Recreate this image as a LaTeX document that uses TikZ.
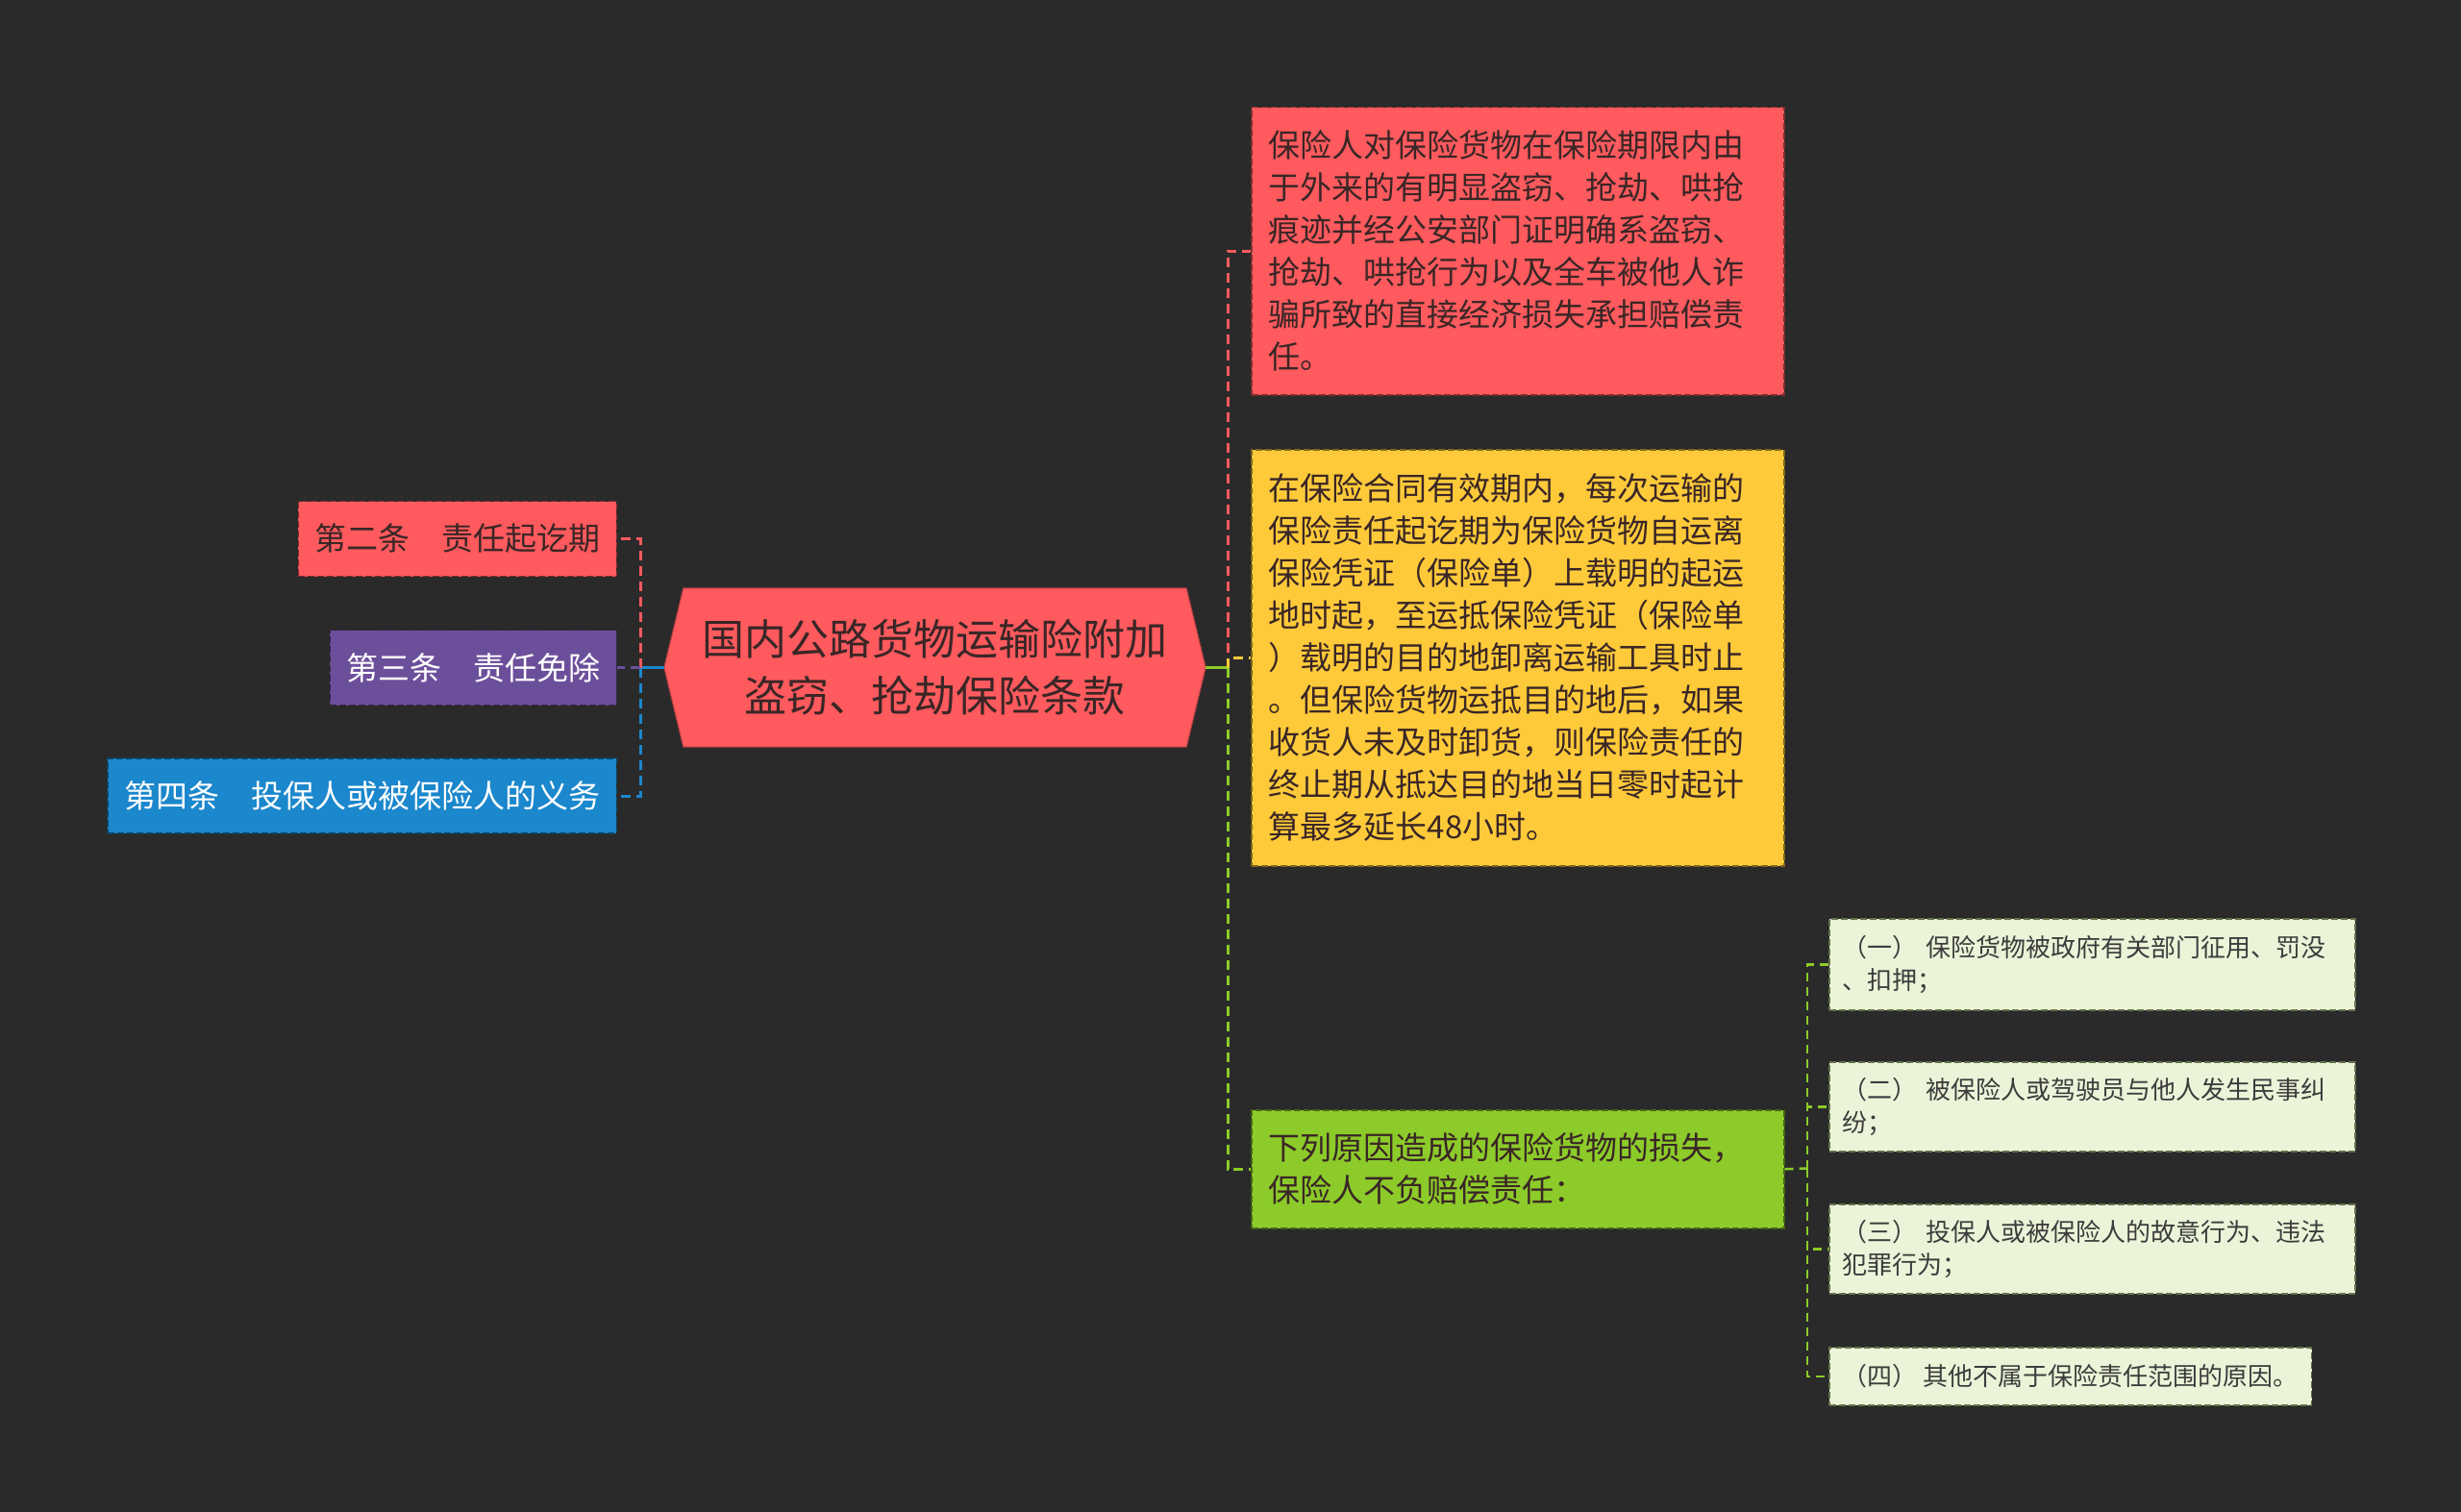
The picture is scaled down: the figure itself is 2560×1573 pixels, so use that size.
\documentclass[tikz,border=0pt]{standalone}
\usepackage{fontspec}
\setmainfont{Noto Sans CJK SC}
\usetikzlibrary{calc,backgrounds}
\definecolor{bgc}{HTML}{2A2A2A}
\definecolor{cRed}{HTML}{FF5A5E}
\definecolor{cPurple}{HTML}{6C4F9B}
\definecolor{cBlue}{HTML}{1B87CC}
\definecolor{cYellow}{HTML}{FECA3A}
\definecolor{cGreen}{HTML}{8CCB2A}
\definecolor{cLight}{HTML}{EBF4D8}
\definecolor{tDark}{HTML}{3A2626}
\definecolor{tGray}{HTML}{3C3C3C}
\tikzset{
  boxborder/.style={draw=#1!50!black, line width=1.5bp, dash pattern=on 7bp off 3bp},
  leftbox/.style={boxborder=#1, fill=#1, anchor=east, inner xsep=17bp, inner ysep=0bp,
    minimum height=78bp, font=\fontsize{33bp}{44bp}\selectfont},
  bigbox/.style={boxborder=#1, fill=#1, anchor=north west, inner xsep=18bp, inner ysep=0bp,
    text width=518bp, align=left, font=\fontsize{33bp}{44bp}\selectfont, text=tDark},
  smallbox/.style={boxborder=cGreen!40!cLight, fill=cLight, anchor=north west, inner xsep=14bp, inner ysep=0bp,
    align=left, font=\fontsize{26bp}{34bp}\selectfont, text=tGray},
  conn/.style={draw=#1, line width=3bp, dash pattern=on 10bp off 6bp},
  thinconn/.style={draw=#1, line width=2.5bp, dash pattern=on 9bp off 6bp},
}
\begin{document}
\begin{tikzpicture}[x=1bp,y=-1bp]
\useasboundingbox (0,0) rectangle (2560,1573);

% root
\node[inner sep=0, minimum width=563bp, minimum height=165bp, align=center,
      font=\fontsize{44bp}{59bp}\selectfont, text=tDark] (root) at (972.5,694.5)
      {国内公路货物运输险附加\\盗窃、抢劫保险条款};
\begin{scope}[on background layer]
\fill[bgc] (0,0) rectangle (2560,1573);
\filldraw[fill=cRed, draw=cRed!70!black, line width=1bp]
  (root.west) -- ($(root.north west)+(20,0)$) -- ($(root.north east)+(-20,0)$)
  -- (root.east) -- ($(root.south east)+(-20,0)$) -- ($(root.south west)+(20,0)$) -- cycle;
\end{scope}

% left children
\node[leftbox=cRed, text=tDark] (n2) at (642,560.5) {第二条　责任起讫期};
\node[leftbox=cPurple, text=white] (n3) at (642,694.5) {第三条　责任免除};
\node[leftbox=cBlue, text=white] (n4) at (642,828) {第四条　投保人或被保险人的义务};

% right children
\node[bigbox=cRed, minimum height=299bp] (r1) at (1301,111)
 {保险人对保险货物在保险期限内由\\于外来的有明显盗窃、抢劫、哄抢\\痕迹并经公安部门证明确系盗窃、\\抢劫、哄抢行为以及全车被他人诈\\骗所致的直接经济损失承担赔偿责\\任。};
\node[bigbox=cYellow, minimum height=433bp] (r2) at (1301,467)
 {在保险合同有效期内，每次运输的\\保险责任起讫期为保险货物自运离\\保险凭证（保险单）上载明的起运\\地时起，至运抵保险凭证（保险单\\）载明的目的地卸离运输工具时止\\。但保险货物运抵目的地后，如果\\收货人未及时卸货，则保险责任的\\终止期从抵达目的地当日零时起计\\算最多延长48小时。};
\node[bigbox=cGreen, minimum height=123bp] (r3) at (1301,1154)
 {下列原因造成的保险货物的损失，\\保险人不负赔偿责任：};

% grandchildren
\node[smallbox, text width=519bp, minimum height=95bp] (g1) at (1902,955)
 {（一） 保险货物被政府有关部门征用、罚没\\、扣押；};
\node[smallbox, text width=519bp, minimum height=93bp] (g2) at (1902,1104)
 {（二） 被保险人或驾驶员与他人发生民事纠\\纷；};
\node[smallbox, text width=519bp, minimum height=93bp] (g3) at (1902,1252)
 {（三） 投保人或被保险人的故意行为、违法\\犯罪行为；};
\node[smallbox, minimum height=60bp] (g4) at (1902,1401)
 {（四） 其他不属于保险责任范围的原因。};

% connectors left
\coordinate (lj) at (666,694.5);
\draw[cBlue, line width=3bp] (root.west) -- (lj);
\draw[conn=cRed] (lj) |- (n2.east);
\draw[conn=cBlue] (lj) |- (n4.east);
\draw[conn=cPurple] (lj) -- (n3.east);

% connectors right
\coordinate (rj) at (1277,694.5);
\draw[cGreen, line width=3bp] (root.east) -- (rj);
\draw[conn=cRed] (rj) |- (r1.west);
\draw[conn=cGreen] (rj) |- (r3.west);
\draw[conn=cYellow] (rj) |- (r2.west);

% connectors far right
\coordinate (gj) at (1880,1215.5);
\draw[thinconn=cGreen] (r3.east) -- (gj);
\draw[thinconn=cGreen] (gj) |- (g1.west);
\draw[thinconn=cGreen] (gj) |- (g2.west);
\draw[thinconn=cGreen] (gj) |- (g3.west);
\draw[thinconn=cGreen] (gj) |- (g4.west);
\end{tikzpicture}
\end{document}
